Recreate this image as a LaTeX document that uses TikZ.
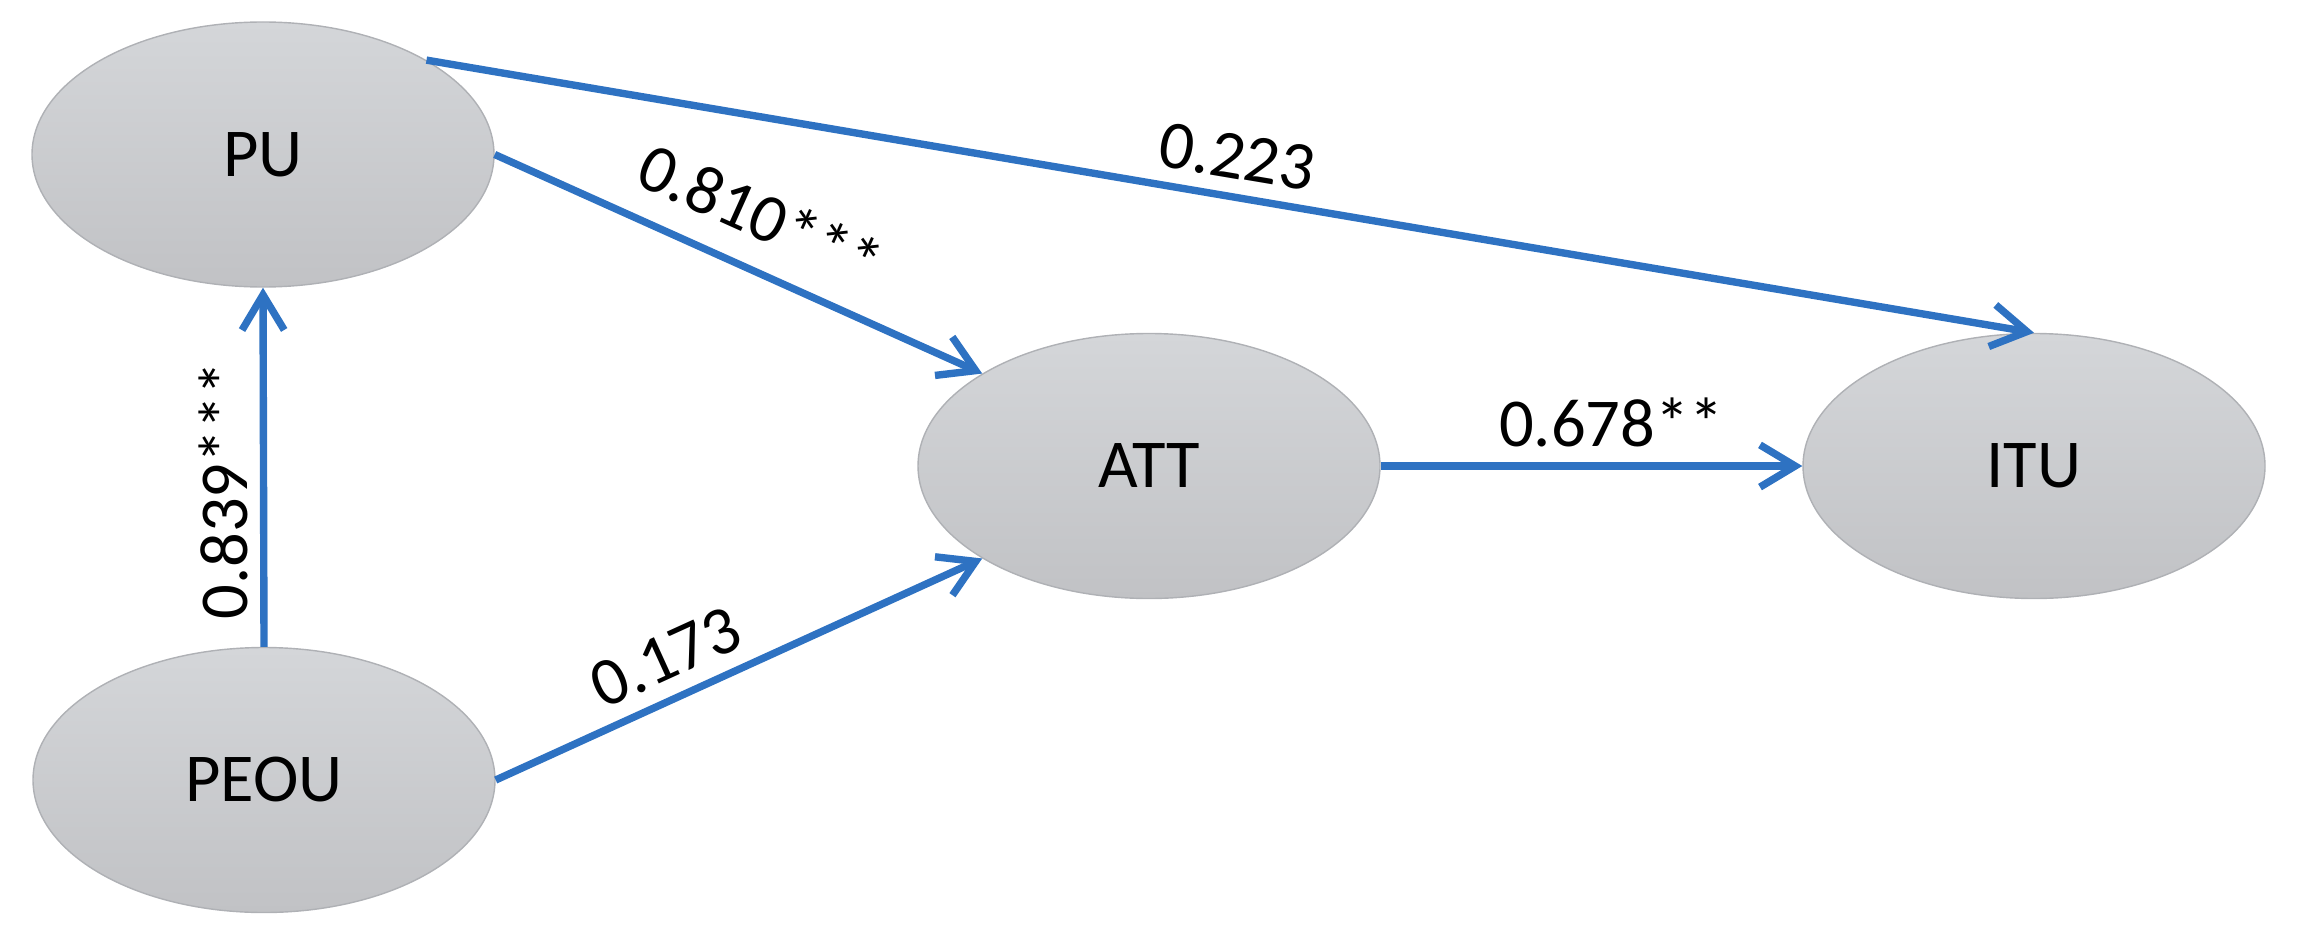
\documentclass[tikz,border=0pt]{standalone}
\usepackage{fontspec}
\setmainfont{Carlito}
\usetikzlibrary{shapes.geometric,arrows.meta}
\definecolor{arrowblue}{RGB}{46,114,194}
\definecolor{elltop}{RGB}{212,214,217}
\definecolor{ellbot}{RGB}{193,194,197}
\definecolor{ellline}{RGB}{175,177,181}
\tikzset{
  construct/.style={ellipse, minimum width=4.62cm, minimum height=2.65cm, inner sep=0pt,
    top color=elltop, bottom color=ellbot, draw=ellline, line width=0.4pt,
    font=\fontsize{19.5}{23}\selectfont},
  link/.style={draw=arrowblue, line width=2.1pt,
    -{Straight Barb[length=10pt,width=12pt,line width=2.1pt]}},
  coef/.style={font=\fontsize{19.5}{23}\selectfont, sloped, inner sep=1pt},
  coefv/.style={font=\fontsize{19.5}{23}\selectfont, rotate=90, anchor=south,
    inner sep=0pt, outer sep=4.3pt}
}
\begin{document}
\begin{tikzpicture}
\useasboundingbox (0,0) rectangle (23.13,-9.5);
\node[construct] (pu)   at (2.63,-1.545) {PU};
\node[construct] (peou) at (2.64,-7.80) {PEOU};
\node[construct] (att)  at (11.49,-4.66) {ATT};
\node[construct] (itu)  at (20.34,-4.66) {ITU};

\draw[link] (pu.30) -- node[coef, pos=0.5, above=3pt] {0.223} (itu.north);
\draw[link] (pu.east) -- node[coef, pos=0.5, above=6.5pt] {0.810***} (att.151);
\draw[link] (peou.east) -- node[coef, pos=0.385, above=3.3pt] {0.173} (att.209);
\draw[link] (peou.north) -- node[coefv, pos=0.436] {0.839***} (pu.south);
\draw[link] (att.east) -- node[coef, pos=0.547, above=3.3pt] {0.678**} (itu.west);
\end{tikzpicture}
\end{document}
